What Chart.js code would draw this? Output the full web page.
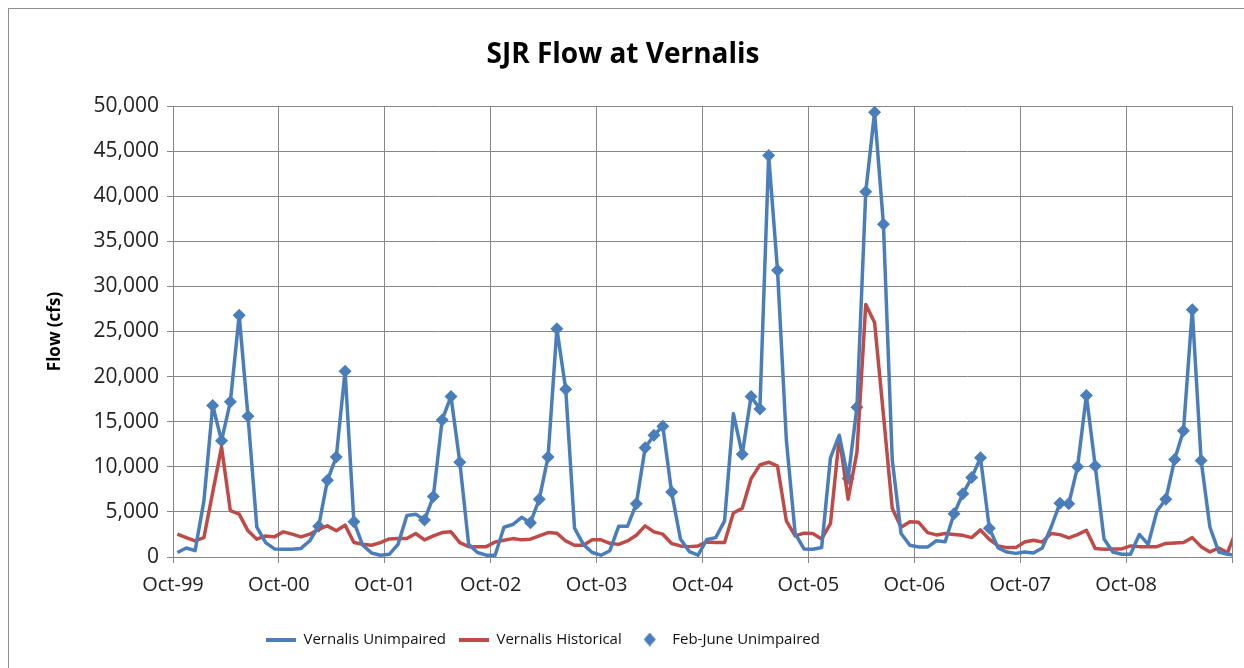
<!DOCTYPE html>
<html>
<head>
<meta charset="utf-8">
<title>SJR Flow at Vernalis</title>
<script src="https://cdn.jsdelivr.net/npm/chart.js@4.4.0/dist/chart.umd.min.js"></script>
<style>
  html, body { margin: 0; padding: 0; background: #fff; overflow: hidden; }
  #frame { position: absolute; left: 8px; top: 8px; width: 1300px; height: 700px; border: 1px solid #8e8e8e; }
  #wrap { position: absolute; left: 0; top: 0; width: 1244px; height: 668px; }
</style>
</head>
<body>
<div id="frame"></div>
<div id="wrap"><canvas id="flowChart" width="1244" height="668"></canvas></div>
<script>
// year ticks on the x axis (one per water year, Oct to Sep)
const tickLabels = ["Oct-99", "Oct-00", "Oct-01", "Oct-02", "Oct-03", "Oct-04", "Oct-05", "Oct-06", "Oct-07", "Oct-08"];

// monthly flow in cfs, Oct-99 .. Sep-09, then Oct-09 (cut off by the right edge)
const unimpaired = [
    500, 1000, 700, 6200, 16800, 12900, 17200, 26800, 15600, 3300, 1600, 900,
    850, 850, 950, 1800, 3400, 8500, 11100, 20600, 3900, 1300, 450, 200,
    300, 1400, 4600, 4750, 4100, 6700, 15200, 17800, 10500, 1400, 500, 200,
    200, 3300, 3600, 4400, 3800, 6400, 11100, 25300, 18600, 3200, 1400, 500,
    200, 700, 3400, 3400, 5900, 12100, 13500, 14500, 7200, 2000, 600, 200,
    1950, 2150, 4000, 15900, 11400, 17800, 16400, 44500, 31800, 13000, 2600, 900,
    850, 1050, 11000, 13500, 8700, 16600, 40500, 49300, 36900, 10800, 2600, 1300,
    1100, 1100, 1800, 1700, 4800, 7000, 8800, 11000, 3200, 1000, 550, 400,
    550, 450, 1000, 3300, 5950, 5900, 10000, 17900, 10100, 2000, 560, 300,
    300, 2500, 1400, 5100, 6400, 10800, 14000, 27400, 10700, 3300, 560, 300,
    200
];
const historical = [
    2530, 2150, 1780, 2150, 7170, 12190, 5130, 4750, 2900, 1970, 2340, 2230,
    2790, 2530, 2230, 2530, 3080, 3450, 2900, 3530, 1600, 1410, 1300, 1600,
    2000, 2040, 2040, 2600, 1900, 2340, 2710, 2790, 1600, 1150, 1150, 1150,
    1670, 1860, 2040, 1900, 1970, 2340, 2710, 2640, 1780, 1300, 1300, 1900,
    1900, 1520, 1400, 1780, 2410, 3450, 2790, 2530, 1490, 1230, 1150, 1230,
    1670, 1600, 1600, 4870, 5390, 8660, 10220, 10510, 10070, 4010, 2340, 2640,
    2600, 2000, 3700, 13300, 6400, 11600, 28000, 26000, 15800, 5400, 3300, 3900,
    3850, 2700, 2450, 2600, 2500, 2400, 2150, 3000, 1970, 1230, 1040, 1040,
    1670, 1850, 1670, 2600, 2480, 2110, 2480, 2970, 930, 860, 900, 900,
    1230, 1150, 1150, 1150, 1500, 1550, 1600, 2150, 1150, 560, 1000, 500,
    3000
];
// Feb..Jun, counted from October
const febJuneMonths = [4, 5, 6, 7, 8];

const blue = "#4a7ebb";
const red = "#be4b48";

// each monthly value sits in the middle of its month
const toPoints = arr => arr.map((v, i) => ({ x: i + 0.5, y: v }));
const febJune = toPoints(unimpaired).filter((p, i) => i < 120 && febJuneMonths.includes(i % 12));

function legendLine(color) {
    const c = document.createElement("canvas");
    c.width = 30; c.height = 4;
    const g = c.getContext("2d");
    g.fillStyle = color;
    g.fillRect(0, 0, 30, 4);
    return c;
}
function legendDiamond(color) {
    const c = document.createElement("canvas");
    c.width = 12; c.height = 14;
    const g = c.getContext("2d");
    g.fillStyle = color;
    g.beginPath();
    g.moveTo(6, 0); g.lineTo(12, 7); g.lineTo(6, 14); g.lineTo(0, 7);
    g.closePath();
    g.fill();
    return c;
}
const legendIcons = [legendLine(blue), legendLine(red), legendDiamond(blue)];

// move the legend to where it sits in the original (left of centre)
const legendShift = {
    id: "legendShift",
    afterLayout(chart) {
        chart.legend.left = 266 - chart.legend.options.labels.padding;
    }
};

const ctx = document.getElementById("flowChart").getContext("2d");
new Chart(ctx, {
    type: "line",
    data: {
        datasets: [
            {
                label: "Vernalis Unimpaired",
                data: toPoints(unimpaired),
                borderColor: blue,
                backgroundColor: blue,
                borderWidth: 3.5,
                borderJoinStyle: "round",
                pointRadius: 0,
                tension: 0
            },
            {
                label: "Vernalis Historical",
                data: toPoints(historical),
                borderColor: red,
                backgroundColor: red,
                borderWidth: 3.5,
                borderJoinStyle: "round",
                pointRadius: 0,
                tension: 0
            },
            {
                label: "Feb-June Unimpaired",
                data: febJune,
                showLine: false,
                pointStyle: "rectRot",
                pointRadius: 6.5,
                borderWidth: 0,
                backgroundColor: blue,
                borderColor: blue
            }
        ]
    },
    options: {
        responsive: false,
        animation: false,
        events: [],
        layout: { padding: { left: 14, right: 12, top: 0, bottom: 11 } },
        scales: {
            x: {
                type: "linear",
                min: 0,
                max: 120,
                afterFit: scale => { scale.height = 62; },
                ticks: {
                    stepSize: 12,
                    autoSkip: false,
                    maxRotation: 0,
                    padding: 10,
                    color: "#222",
                    font: { family: "'Open Sans', sans-serif", size: 20 },
                    callback: v => tickLabels[v / 12] || ""
                },
                grid: { color: "#878787", lineWidth: 1, tickLength: 6 },
                border: { color: "#878787" }
            },
            y: {
                min: 0,
                max: 50000,
                afterFit: scale => { scale.width = 159; },
                ticks: {
                    stepSize: 5000,
                    padding: 8,
                    color: "#222",
                    font: { family: "'Open Sans', sans-serif", size: 21 },
                    callback: v => v.toLocaleString("en-US")
                },
                grid: { color: "#878787", lineWidth: 1, tickLength: 6 },
                border: { color: "#878787" },
                title: {
                    display: true,
                    text: "Flow (cfs)",
                    color: "#000",
                    padding: { top: 31, bottom: 0 },
                    font: { family: "'Open Sans', sans-serif", size: 17, weight: "bold" }
                }
            }
        },
        plugins: {
            title: {
                display: true,
                text: "SJR Flow at Vernalis",
                color: "#000",
                padding: { top: 38, bottom: 34.4 },
                font: { family: "'Open Sans', sans-serif", size: 28, weight: "bold" }
            },
            legend: {
                position: "bottom",
                align: "start",
                labels: {
                    usePointStyle: true,
                    pointStyleWidth: 30,
                    padding: 13,
                    color: "#111",
                    font: { family: "'Open Sans', sans-serif", size: 15 },
                    generateLabels: chart => {
                        const items = Chart.defaults.plugins.legend.labels.generateLabels(chart);
                        items.forEach((item, i) => { item.pointStyle = legendIcons[i]; });
                        return items;
                    }
                }
            },
            tooltip: { enabled: false }
        }
    },
    plugins: [legendShift]
});
</script>
</body>
</html>
